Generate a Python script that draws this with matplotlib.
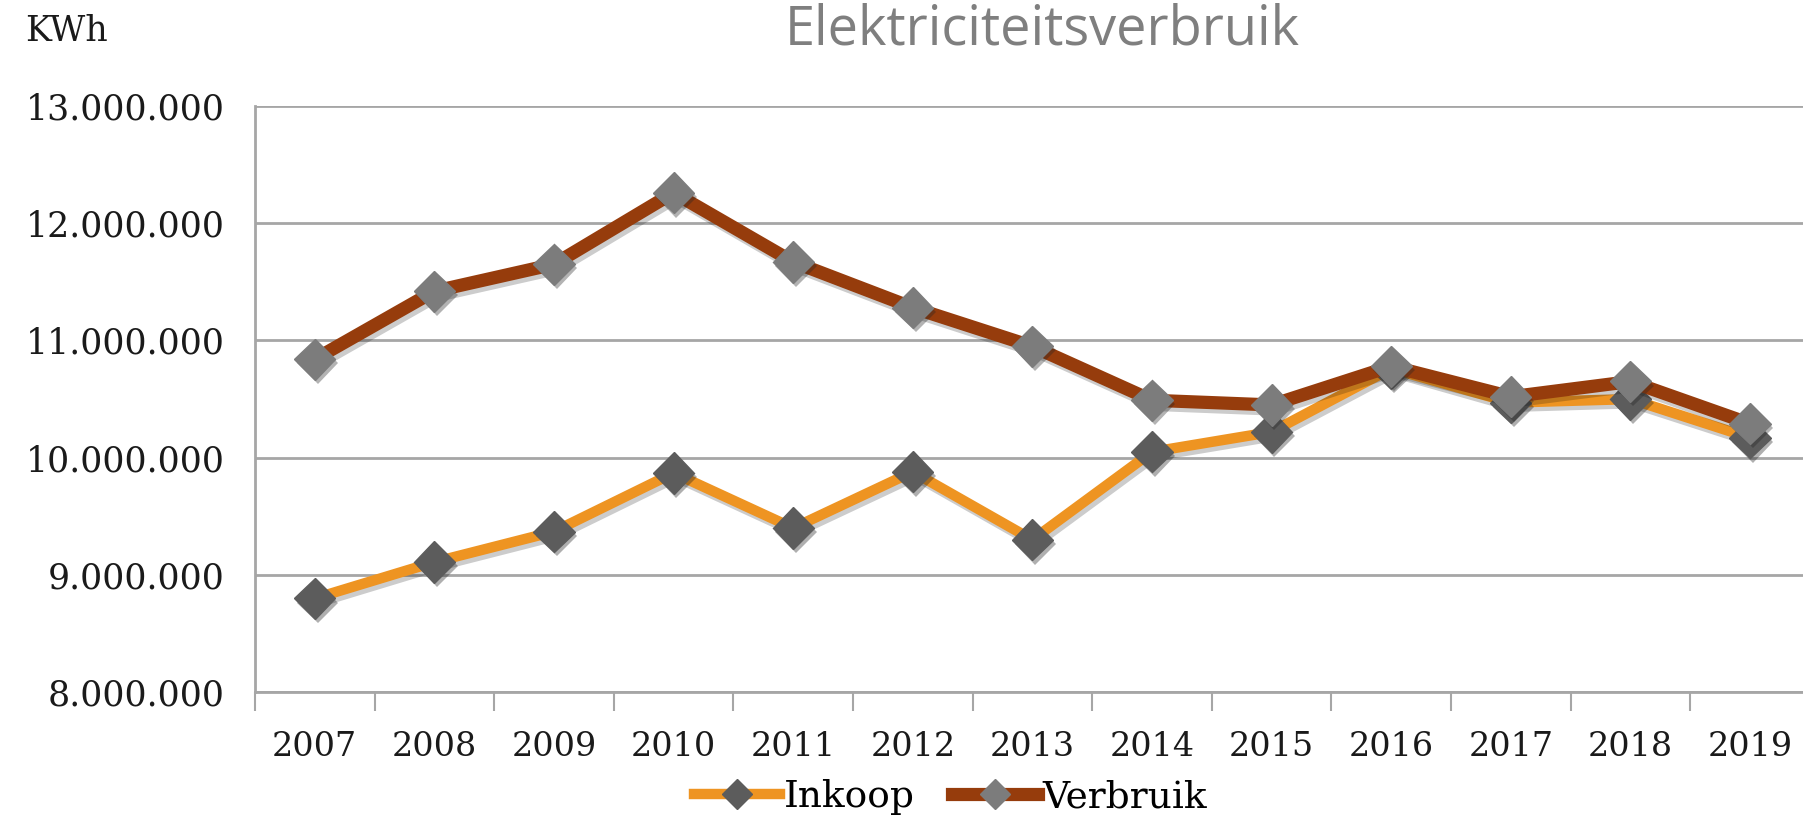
import matplotlib
matplotlib.use('agg')
from matplotlib import pyplot as plt
from matplotlib import patheffects as pe
from matplotlib.lines import Line2D
from matplotlib.ticker import FuncFormatter, FixedLocator

years = ['2007', '2008', '2009', '2010', '2011', '2012', '2013',
         '2014', '2015', '2016', '2017', '2018', '2019']
inkoop = [8800000, 9110000, 9370000, 9870000, 9400000, 9880000, 9300000,
          10050000, 10220000, 10760000, 10470000, 10500000, 10170000]
verbruik = [10840000, 11420000, 11650000, 12260000, 11670000, 11280000, 10950000,
            10490000, 10450000, 10780000, 10520000, 10650000, 10290000]

ink_color = '#EE9422'
ver_color = '#963C0C'
ink_marker = '#5C5C5C'
ver_marker = '#7C7C7C'

fig = plt.figure(figsize=(18.03, 8.26), dpi=100)
ax = fig.add_axes([0.1414, 0.162, 0.8624, 0.7097])

x = list(range(len(years)))
line_shadow = [pe.SimpleLineShadow(offset=(2, -3), alpha=0.2), pe.Normal()]
mark_shadow = [pe.SimplePatchShadow(offset=(2, -3), alpha=0.35), pe.Normal()]

# lines first, then markers on top with a soft shadow
ax.plot(x, inkoop, color=ink_color, lw=7.5, solid_capstyle='butt',
        path_effects=line_shadow, zorder=3)
ax.plot(x, inkoop, ls='none', marker='D', markersize=21,
        markerfacecolor=ink_marker, markeredgecolor=ink_marker,
        path_effects=mark_shadow, zorder=4)
ax.plot(x, verbruik, color=ver_color, lw=9.5, solid_capstyle='butt',
        path_effects=line_shadow, zorder=5)
ax.plot(x, verbruik, ls='none', marker='D', markersize=21,
        markerfacecolor=ver_marker, markeredgecolor=ver_marker,
        path_effects=mark_shadow, zorder=6)

ax.set_xlim(-0.5, len(years) - 0.5)
ax.set_ylim(8000000, 13000000)
ax.set_yticks([8000000, 9000000, 10000000, 11000000, 12000000, 13000000])
ax.yaxis.set_major_formatter(FuncFormatter(lambda v, p: f"{v:,.0f}".replace(',', '.')))
ax.set_xticks(x)
ax.set_xticklabels(years)
ax.xaxis.set_minor_locator(FixedLocator([i + 0.5 for i in range(-1, len(years))]))

ax.grid(axis='y', color='#A6A6A6', lw=2)
ax.set_axisbelow(True)
for s in ['top', 'right']:
    ax.spines[s].set_visible(False)
for s in ['left', 'bottom']:
    ax.spines[s].set_color('#A6A6A6')
    ax.spines[s].set_linewidth(2)

ax.tick_params(axis='y', length=0, pad=22, labelsize=25, labelcolor='#1A1A1A')
ax.tick_params(axis='x', which='major', length=0, pad=28, labelsize=24, labelcolor='#1A1A1A')
ax.tick_params(axis='x', which='minor', length=14, width=1.5, color='#A6A6A6')
for lbl in ax.get_xticklabels() + ax.get_yticklabels():
    lbl.set_fontfamily('DejaVu Serif')

fig.text(0.578, 0.946, 'Elektriciteitsverbruik', ha='center', va='baseline',
         fontsize=39, color='#7F7F7F', family='Open Sans')
fig.text(0.014, 0.962, 'KWh', ha='left', va='center',
         fontsize=25, color='#1A1A1A', family='DejaVu Serif')

handles = [
    Line2D([], [], color=ink_color, lw=7.5, marker='D', markersize=15,
           markerfacecolor=ink_marker, markeredgecolor=ink_marker),
    Line2D([], [], color=ver_color, lw=9.5, marker='D', markersize=15,
           markerfacecolor=ver_marker, markeredgecolor=ver_marker),
]
fig.legend(handles, ['Inkoop', 'Verbruik'], loc='center', bbox_to_anchor=(0.527, 0.035),
           ncol=2, frameon=False, prop={'family': 'DejaVu Serif', 'size': 27},
           handlelength=2.3, handletextpad=0.1, columnspacing=1.0)

fig.savefig('out.png', dpi=100)
plt.close(fig)
